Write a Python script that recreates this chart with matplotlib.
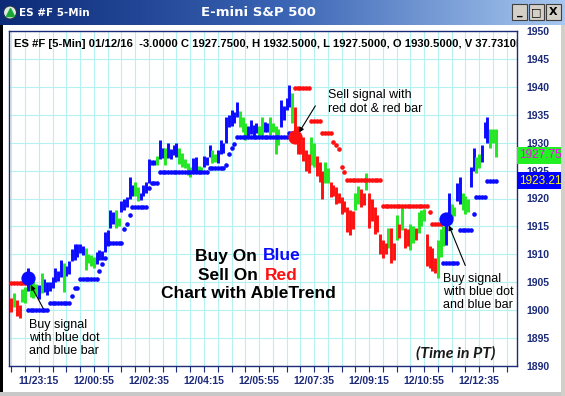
import numpy as np
import matplotlib.pyplot as plt
from matplotlib.patches import Rectangle
from matplotlib.colors import LinearSegmentedColormap
import matplotlib.transforms as mtransforms

plt.rcParams['font.family'] = ['Liberation Sans', 'DejaVu Sans']

# bar 0 = 11/23:15, 5-min bars, first bar shown is index -10
first_bar = -10
bar_high = [
    1902.2, 1903.0, 1901.8, 1901.0, 1903.8, 1904.2, 1907.6, 1905.2, 1905.4, 1904.6,
    1904.5, 1906.6, 1905.5, 1905.0, 1905.0, 1906.0, 1907.5, 1907.0, 1909.0, 1908.4,
    1908.0, 1908.8, 1911.0, 1911.8, 1911.8, 1911.8, 1911.5, 1911.2, 1910.0, 1909.8,
    1909.5, 1910.4, 1910.8, 1910.6, 1914.0, 1914.3, 1918.0, 1917.5, 1918.0, 1916.5,
    1919.5, 1920.0, 1920.2, 1923.8, 1922.5, 1923.0, 1922.0, 1921.0, 1922.5, 1923.0,
    1927.0, 1926.9, 1926.9, 1927.7, 1930.4, 1929.0, 1929.0, 1930.0, 1928.8, 1929.6,
    1930.0, 1929.0, 1928.2, 1927.0, 1926.3, 1925.6, 1927.2, 1927.4, 1925.8, 1925.6,
    1927.6, 1927.5, 1929.5, 1928.6, 1928.0, 1928.6, 1930.4, 1930.0, 1934.6, 1935.0,
    1935.8, 1935.5, 1937.2, 1935.6, 1934.6, 1933.5, 1933.0, 1934.0, 1933.2, 1933.5,
    1933.0, 1934.6, 1933.7, 1933.5, 1934.6, 1933.5, 1933.0, 1932.5, 1937.6, 1936.6,
    1938.0, 1940.3, 1938.9, 1936.4, 1933.0, 1930.4, 1931.0, 1928.6, 1928.0, 1931.0,
    1930.0, 1927.7, 1926.5, 1925.0, 1926.5, 1925.5, 1922.9, 1922.5, 1922.0, 1921.0,
    1920.2, 1919.5, 1918.4, 1918.0, 1917.8, 1921.0, 1922.3, 1921.7, 1921.0, 1924.5,
    1921.0, 1920.0, 1918.4, 1917.0, 1913.7, 1912.5, 1912.0, 1914.8, 1914.8, 1912.0,
    1917.0, 1915.5, 1918.4, 1914.8, 1914.5, 1915.5, 1915.0, 1914.8, 1917.5, 1918.0,
    1918.2, 1913.7, 1911.5, 1911.2, 1909.4, 1912.5, 1914.5, 1915.0, 1915.5, 1921.0,
    1919.0, 1918.5, 1922.7, 1923.8, 1921.0, 1920.5, 1920.0, 1925.6, 1929.0, 1927.5,
    1928.0, 1929.5, 1933.7, 1934.6, 1932.5, 1932.5, 1932.5,
]
bar_low = [
    1899.6, 1900.5, 1899.0, 1898.6, 1901.5, 1901.2, 1903.5, 1902.4, 1902.2, 1902.6,
    1902.0, 1903.0, 1903.2, 1902.8, 1903.5, 1904.0, 1905.0, 1905.2, 1906.0, 1903.2,
    1906.2, 1906.5, 1908.8, 1909.0, 1909.5, 1910.2, 1909.8, 1907.2, 1908.5, 1908.0,
    1907.5, 1908.3, 1909.0, 1908.9, 1910.4, 1911.5, 1914.8, 1915.5, 1914.8, 1915.0,
    1917.5, 1918.0, 1918.4, 1920.0, 1920.5, 1920.5, 1919.6, 1919.8, 1920.5, 1921.0,
    1922.7, 1926.0, 1926.0, 1926.0, 1927.0, 1927.2, 1926.0, 1927.2, 1927.0, 1927.8,
    1927.4, 1926.2, 1925.6, 1925.5, 1924.2, 1923.8, 1924.5, 1925.0, 1924.8, 1924.6,
    1925.6, 1926.0, 1927.4, 1926.3, 1926.5, 1926.3, 1928.0, 1928.2, 1930.0, 1932.8,
    1933.0, 1933.5, 1934.6, 1932.8, 1932.0, 1930.4, 1930.8, 1931.5, 1931.0, 1931.8,
    1931.0, 1931.2, 1931.9, 1932.0, 1931.4, 1932.0, 1928.0, 1929.5, 1932.8, 1934.0,
    1935.8, 1936.4, 1933.5, 1930.0, 1928.0, 1928.0, 1926.8, 1925.0, 1924.5, 1926.0,
    1925.6, 1924.0, 1922.9, 1920.0, 1922.7, 1922.7, 1920.2, 1920.5, 1919.0, 1919.2,
    1917.3, 1917.5, 1914.0, 1913.5, 1914.5, 1918.0, 1919.0, 1918.5, 1918.8, 1921.5,
    1914.8, 1916.0, 1913.7, 1914.0, 1910.0, 1909.4, 1910.0, 1911.2, 1908.5, 1909.0,
    1912.5, 1913.0, 1914.3, 1911.2, 1911.5, 1910.7, 1912.0, 1912.5, 1913.8, 1915.0,
    1916.0, 1908.0, 1907.5, 1907.0, 1906.6, 1905.8, 1909.5, 1911.5, 1911.6, 1916.4,
    1916.5, 1916.8, 1919.6, 1919.0, 1918.0, 1917.3, 1917.5, 1922.0, 1925.0, 1924.5,
    1925.5, 1926.5, 1930.8, 1930.0, 1929.0, 1930.0, 1927.5,
]
bar_color = ("rgrrggbggg" "bgbbbbbbbg" "bbbbbbbggg" "gbbbbbbbgg" "bbbbbggbbb"
             "bbbgbbgbbb" "bgggggbbgg" "bbbggbbbbb" "bbbgggbbbb" "ggbbggggbb"
             "bbgrrrrrrg" "grrrggrrrr" "rrrrrggrrg" "rrrrrrrgrr" "grgrrggrgg"
             "grrrrgggbb" "ggbbgggbbg" "gbbbggg")

# AbleTrend stop dots, as runs of bars at one level
stop_first = [-10, -4, 4, 12, 13, 15, 22, 23, 24, 25, 31, 32, 33, 34, 40, 41, 44, 62, 68, 69,
              70, 71, 72, 91, 93, 99, 103, 107, 108, 109, 110, 111, 112, 125, 142, 143, 147, 153,
              158, 159, 163]
stop_last = [-5, 3, 11, 12, 14, 21, 22, 23, 24, 30, 31, 32, 33, 39, 40, 43, 61, 67, 68, 69,
             70, 71, 90, 92, 98, 102, 106, 107, 108, 109, 110, 111, 124, 141, 142, 146, 152, 157,
             158, 162, 166]
stop_level = [1904.8, 1900.0, 1901.3, 1902.6, 1904.0, 1905.5, 1907.0, 1908.3, 1909.4, 1912.0,
              1914.6, 1915.5, 1917.0, 1918.4, 1921.8, 1922.7, 1924.8, 1925.5, 1926.0, 1928.0,
              1929.0, 1929.8, 1931.1, 1931.8, 1939.8, 1933.8, 1931.7, 1930.2, 1929.6, 1928.9,
              1925.6, 1924.8, 1923.4, 1918.6, 1917.5, 1915.5, 1908.4, 1914.4, 1917.3, 1920.2,
              1923.2]
stop_color = "r" + "bbbbbbbbbbbbbbbbbbbbbbb" + "rrrrrrrrrrrr" + "bbbbb"

signal_bar = [-4, 93, 148]
signal_price = [1905.8, 1931.0, 1916.3]
signal_color = "brb"

time_labels = ["11/23:15", "12/00:55", "12/02:35", "12/04:15", "12/05:55",
               "12/07:35", "12/09:15", "12/10:55", "12/12:35"]
last_close = 1927.75
last_stop = 1923.21

W, H = 565, 396
navy = '#1c2a7a'
colors = {'b': '#0b0bff', 'g': '#22e622', 'r': '#ff1010'}


def fx(px):
    return px / W


def fy(py):
    return 1 - py / H


fig = plt.figure(figsize=(W / 100, H / 100), dpi=100, facecolor='white')

# window title bar
tb = fig.add_axes([0, fy(25), 1, 25 / H])
grad = LinearSegmentedColormap.from_list('tb', ['#0c2a78', '#3a64b4', '#a8c8f0'])
tb.imshow(np.linspace(0, 1, 256)[None, :], aspect='auto', cmap=grad, extent=[0, W, 25, 0])
tb.set_xlim(0, W)
tb.set_ylim(25, 0)
tb.axis('off')
tb.add_patch(plt.Circle((10, 12.5), 6.5, color='#dfe8e0', ec='#20304a', lw=0.8))
tb.plot([10], [11.5], marker='^', ms=6, color='#18a838')
tb.text(19, 12.5, "ES #F 5-Min", color='white', fontsize=7.5, fontweight='bold',
        va='center', ha='left', family=['DejaVu Sans'])
tb.text(258, 12.5, "E-mini S&P 500", color='white', fontsize=9.5, fontweight='bold',
        va='center', ha='center', family=['DejaVu Sans'])
for bx, sym in zip([512, 529, 546], ['_', '□', 'X']):
    tb.add_patch(Rectangle((bx, 4), 15, 16, fc='#d4d0c8', ec='#404040', lw=0.8))
    tb.text(bx + 7.5, 12, sym, ha='center', va='center', fontsize=8, fontweight='bold',
            color='black', family=['DejaVu Sans'])

# window border
fig.patches.append(Rectangle((0, 0), fx(3), fy(25), transform=fig.transFigure,
                             fc='black', ec='none'))
fig.patches.append(Rectangle((0, 0), 1, 4 / H, transform=fig.transFigure,
                             fc='#c8c8c8', ec='none'))
fig.patches.append(Rectangle((fx(561), 0), fx(4), fy(25), transform=fig.transFigure,
                             fc='#d4d0c8', ec='none'))

ax = fig.add_axes([fx(9), fy(366), fx(517 - 9), (366 - 31) / H])
ax.set_facecolor('white')

x = np.arange(len(bar_high)) + first_bar
hi = np.array(bar_high)
lo = np.array(bar_low)
for c in 'bgr':
    m = np.array([ch == c for ch in bar_color])
    ax.vlines(x[m], lo[m], hi[m], color=colors[c], lw=2.1, zorder=3)

# stop dots
for s, e, lev, c in zip(stop_first, stop_last, stop_level, stop_color):
    xs = np.arange(s, e + 1)
    ax.scatter(xs, np.full(len(xs), lev), s=11, color=colors[c], zorder=4, lw=0)

for b, p, c in zip(signal_bar, signal_price, signal_color):
    ax.scatter([b], [p], s=105, color=colors[c], zorder=5, lw=0)

ax.set_xlim(-10.9, 173.8)
ax.set_ylim(1890, 1950)
ax.set_xticks(np.arange(-10, 174, 5))
ax.set_xticklabels([time_labels[int(t) // 20] if t % 20 == 0 and t >= 0 else ''
                    for t in np.arange(-10, 174, 5)])
ax.set_yticks(np.arange(1890, 1951, 5))
ax.yaxis.tick_right()
ax.grid(True, color='#b4f2f2', lw=0.8, zorder=0)
ax.set_axisbelow(True)
ax.tick_params(axis='x', direction='out', length=4, width=0.8, color=navy, pad=3,
               labelsize=7.5, labelcolor=navy)
ax.tick_params(axis='y', length=0, pad=7, labelsize=7.5, labelcolor=navy)
for lab in ax.get_xticklabels() + ax.get_yticklabels():
    lab.set_fontweight('bold')
for sp in ax.spines.values():
    sp.set_color(navy)
    sp.set_linewidth(1.0)

ax.text(0.01, 0.962, "ES #F [5-Min] 01/12/16  -3.0000 C 1927.7500, H 1932.5000, "
        "L 1927.5000, O 1930.5000, V 37.7310k", transform=ax.transAxes, fontsize=8.1,
        fontweight='bold', va='center', ha='left', color='black', clip_on=True)

# last price / stop boxes on the right
blend = mtransforms.blended_transform_factory(ax.transAxes, ax.transData)
ax.text(1.004, last_close, f"{last_close:.2f}", transform=blend, fontsize=8.5,
        color='#ff00ff', va='center', ha='left', clip_on=False,
        bbox=dict(boxstyle='square,pad=0.2', fc='#22f022', ec='none'))
ax.text(1.004, last_stop, f"{last_stop:.2f}", transform=blend, fontsize=8.5,
        color='#ffff00', va='center', ha='left', clip_on=False,
        bbox=dict(boxstyle='square,pad=0.2', fc='#0000ff', ec='none'))

# annotations
arrow = dict(arrowstyle='-|>', color='black', lw=0.8, mutation_scale=7, shrinkA=0, shrinkB=0)
fig.text(fx(328), fy(102), "Sell signal with\nred dot & red bar", fontsize=9,
         va='center', ha='left', linespacing=1.15)
ax.annotate("", xy=(94.5, 1931.8), xytext=(100.5, 1936.6), arrowprops=arrow)
fig.text(fx(29), fy(338), "Buy signal\nwith blue dot\nand blue bar", fontsize=9,
         va='center', ha='left', linespacing=1.15)
ax.annotate("", xy=(-3.0, 1904.5), xytext=(2.2, 1899.7), arrowprops=arrow)
fig.text(fx(443), fy(292), "Buy signal\nwith blue dot\nand blue bar", fontsize=9,
         va='center', ha='left', linespacing=1.15)
ax.annotate("", xy=(149.0, 1915.2), xytext=(155.0, 1908.0), arrowprops=arrow)

big = dict(fontsize=12.5, fontweight='bold', va='center')
fig.text(fx(257), fy(256), "Buy On", ha='right', color='black', **big)
fig.text(fx(263), fy(256), "Blue", ha='left', color='#0b0bff', **big)
fig.text(fx(258), fy(275), "Sell On", ha='right', color='black', **big)
fig.text(fx(265), fy(275), "Red", ha='left', color='#ff1010', **big)
fig.text(fx(248), fy(293), "Chart with AbleTrend", ha='center', color='black', **big)

fig.text(fx(456), fy(353), "(Time in PT)", fontsize=11.5, fontweight='bold', style='italic',
         ha='center', va='center', color='#1a1a1a', family=['Lato', 'DejaVu Sans'])

fig.savefig('out.png', dpi=100, facecolor='white')
